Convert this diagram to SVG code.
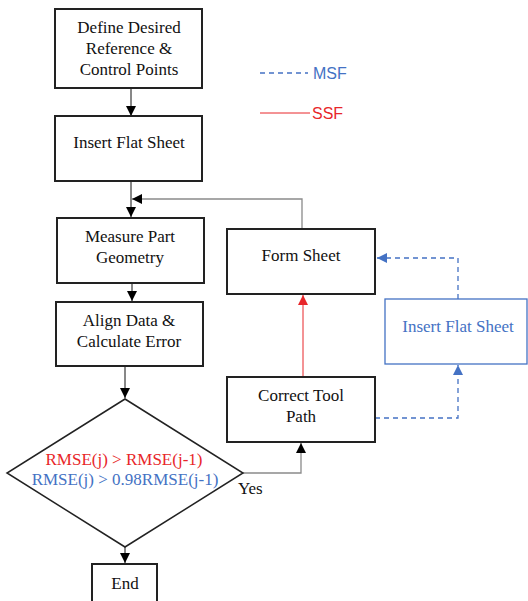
<svg xmlns="http://www.w3.org/2000/svg" width="528" height="601" viewBox="0 0 528 601">
<style>
.box{fill:#fff;stroke:#222;stroke-width:2}
.t{font-family:"Liberation Serif","Times New Roman",serif;font-size:17px;fill:#111;text-anchor:middle}
.c{fill:none;stroke:#111;stroke-width:1}
.g{fill:none;stroke:#8a8a8a;stroke-width:1.3}
.red{fill:none;stroke:#e8262a;stroke-width:1}
.blue{fill:none;stroke:#4472c4;stroke-width:1.3;stroke-dasharray:5,4}
.lg{font-family:"Liberation Sans",Arial,sans-serif;font-size:16px}
</style>
<defs>
<marker id="ab" markerUnits="userSpaceOnUse" markerWidth="10" markerHeight="10" refX="10" refY="5" orient="auto"><path d="M0,0 L10,5 L0,10 z" fill="#000"/></marker>
<marker id="ar" markerUnits="userSpaceOnUse" markerWidth="10" markerHeight="10" refX="10" refY="5" orient="auto"><path d="M0,0 L10,5 L0,10 z" fill="#e8262a"/></marker>
<marker id="au" markerUnits="userSpaceOnUse" markerWidth="10" markerHeight="10" refX="10" refY="5" orient="auto"><path d="M0,0 L10,5 L0,10 z" fill="#4472c4"/></marker>
</defs>
<g id="connectors">
<line class="c" x1="131" y1="88" x2="131" y2="116" marker-end="url(#ab)"/>
<line class="c" x1="131" y1="181" x2="131" y2="217" marker-end="url(#ab)"/>
<polyline class="g" points="302,229 302,199 132,199" marker-end="url(#ab)"/>
<line class="c" x1="132" y1="283" x2="132" y2="301" marker-end="url(#ab)"/>
<line class="c" x1="125" y1="366" x2="125" y2="398" marker-end="url(#ab)"/>
<line class="c" x1="125" y1="547" x2="125" y2="563" marker-end="url(#ab)"/>
<polyline class="g" points="243,473 301,473 301,443" marker-end="url(#ab)"/>
<line class="red" x1="303" y1="377" x2="303" y2="295" marker-end="url(#ar)"/>
<polyline class="blue" points="375,418 458,418 458,365" marker-end="url(#au)"/>
<polyline class="blue" points="458,299 458,258 377,258" marker-end="url(#au)"/>
</g>
<g id="legend">
<line x1="260" y1="73" x2="308" y2="73" stroke="#4472c4" stroke-width="1.3" stroke-dasharray="5,4"/>
<text class="lg" x="313" y="79" fill="#4472c4">MSF</text>
<line x1="260" y1="113" x2="310" y2="113" stroke="#e8262a" stroke-width="1"/>
<text class="lg" x="312" y="119" fill="#e8262a">SSF</text>
</g>
<g id="define">
<rect class="box" x="55" y="9" width="147" height="79"/>
<text class="t" x="129" y="33">Define Desired</text>
<text class="t" x="129" y="54">Reference &amp;</text>
<text class="t" x="129" y="75">Control Points</text>
</g>
<g id="insert">
<rect class="box" x="55" y="116" width="147" height="65"/>
<text class="t" x="129" y="148">Insert Flat Sheet</text>
</g>
<g id="measure">
<rect class="box" x="57" y="218" width="147" height="65"/>
<text class="t" x="130" y="242">Measure Part</text>
<text class="t" x="130" y="263">Geometry</text>
</g>
<g id="align">
<rect class="box" x="56" y="302" width="147" height="64"/>
<text class="t" x="129" y="326">Align Data &amp;</text>
<text class="t" x="129" y="347">Calculate Error</text>
</g>
<g id="decision">
<polygon points="125,399 243,473 125,547 7,473" fill="#fff" stroke="#222" stroke-width="1.5"/>
<text class="t" x="124" y="465" fill="#e8262a" style="fill:#e8262a">RMSE(j) &gt; RMSE(j-1)</text>
<text class="t" x="125" y="485" style="fill:#4472c4">RMSE(j) &gt; 0.98RMSE(j-1)</text>
<text class="t" x="238" y="494" style="text-anchor:start">Yes</text>
</g>
<g id="end">
<rect class="box" x="92" y="564" width="65" height="50"/>
<text class="t" x="125" y="589">End</text>
</g>
<g id="form">
<rect class="box" x="227" y="229" width="148" height="65"/>
<text class="t" x="301" y="261">Form Sheet</text>
</g>
<g id="correct">
<rect class="box" x="227" y="377" width="148" height="65"/>
<text class="t" x="301" y="401">Correct Tool</text>
<text class="t" x="301" y="422">Path</text>
</g>
<g id="insert2">
<rect x="385" y="299" width="142" height="65" fill="#fff" stroke="#4472c4" stroke-width="1.3"/>
<text class="t" x="458" y="332" style="fill:#4472c4">Insert Flat Sheet</text>
</g>
</svg>
